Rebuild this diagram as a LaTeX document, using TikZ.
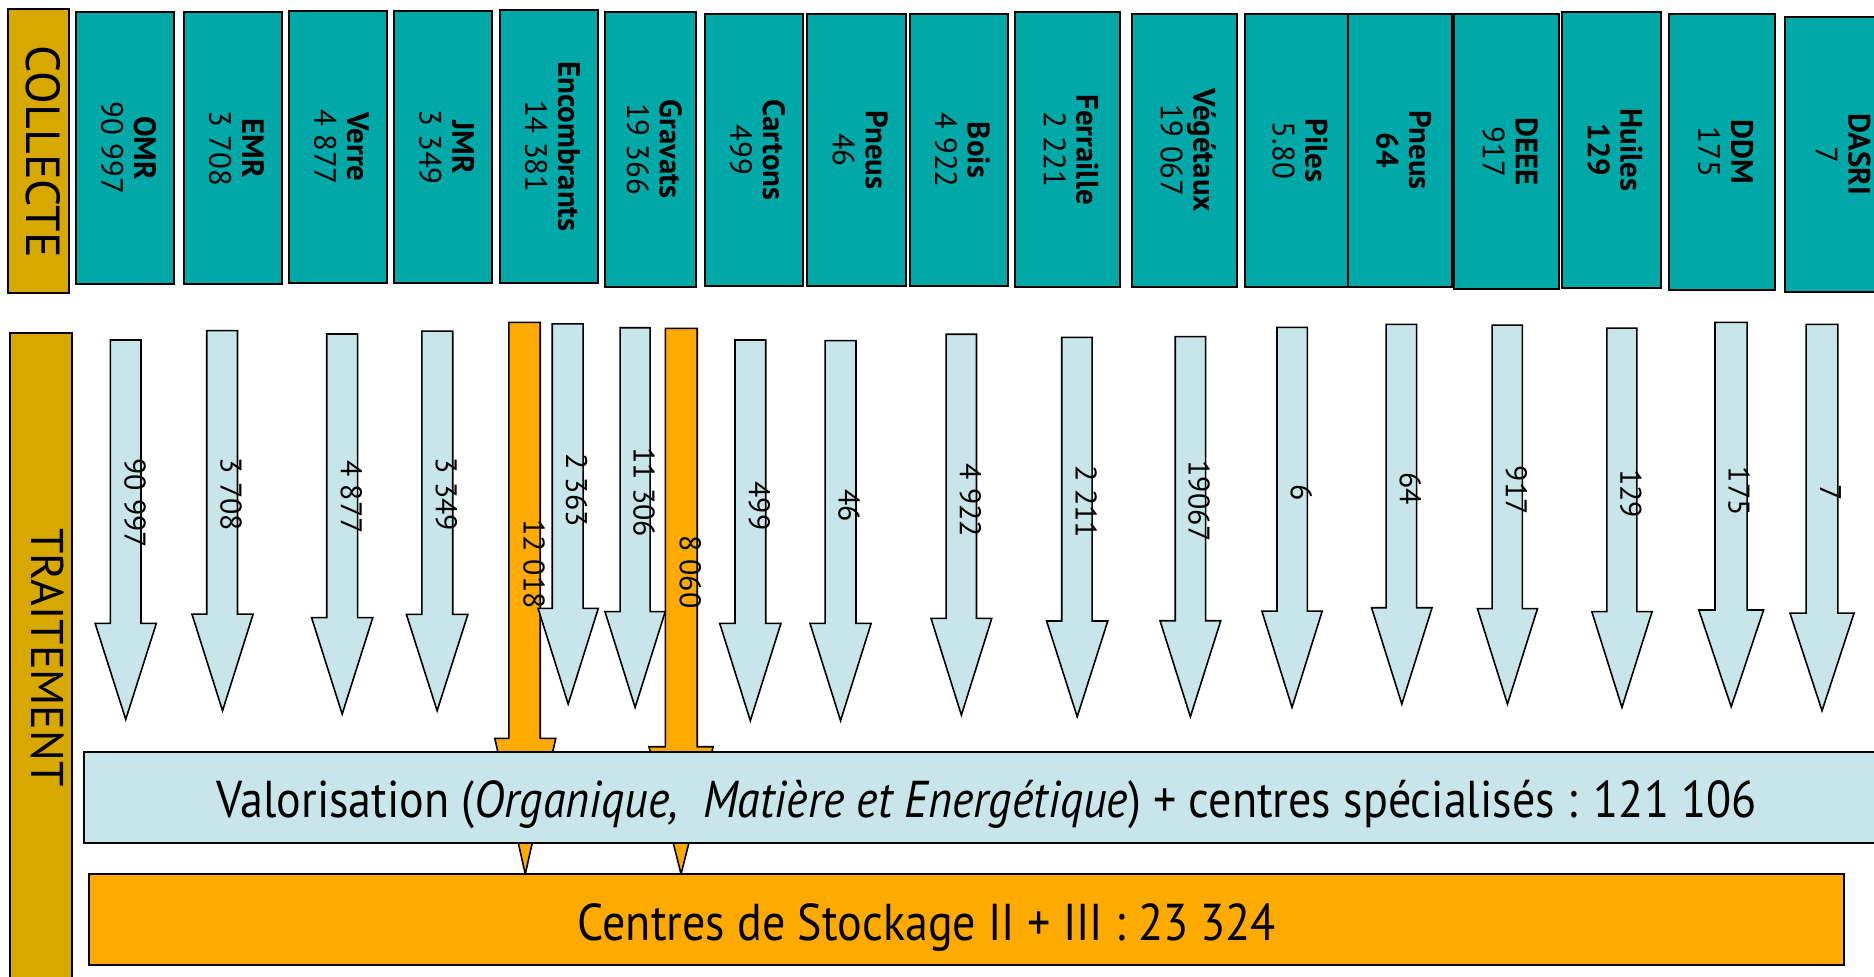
\documentclass[tikz,border=0pt]{standalone}
\usepackage{fontspec}
\setmainfont{PT Sans}
\newfontfamily\condfont[FakeStretch=0.89]{PT Sans}
\definecolor{teal1}{RGB}{0,168,168}
\definecolor{gold1}{RGB}{214,168,0}
\definecolor{lblue}{RGB}{200,230,234}
\definecolor{orng}{RGB}{255,170,0}
\tikzset{
 goldbox/.style={draw=black, line width=1pt, fill=gold1},
 tealbox/.style={draw=black, line width=1pt, fill=teal1},
 blarrow/.style={draw=black, line width=0.8pt, fill=lblue},
 orarrow/.style={draw=black, line width=0.8pt, fill=orng},
 valbox/.style={draw=black, line width=1pt, fill=lblue},
 stobox/.style={draw=black, line width=1pt, fill=orng},
 boxtext/.style={rotate=-90, align=center, font=\fontsize{15.5}{16.5}\selectfont, inner sep=0pt},
 arrlabel/.style={rotate=-90, font=\fontsize{15}{18}\selectfont, inner sep=0pt},
 sidelabel/.style={rotate=-90, font=\fontsize{24}{28}\selectfont, inner sep=0pt},
 bigtext/.style={font=\condfont\fontsize{26}{30}\selectfont, inner sep=0pt}
}
\newcommand{\blockarrow}[9]{%
 \draw[#1] (#2,#4) -- (#3,#4) -- (#3,#5) -- (#7,#5) -- ({(#6+#7)/2},#8) coordinate (#9) -- (#6,#5) -- (#2,#5) -- cycle;}
\newcommand{\collbox}[6]{%
 \draw[tealbox] (#2,#4) rectangle (#3,#5);
 \node[boxtext] (#1) at ({(#2+#3)/2+3},{(#4+#5)/2}) {#6};}
\begin{document}
\begin{tikzpicture}[x=0.6pt,y=-0.6pt]
\useasboundingbox (0,0) rectangle (1568,817);
\clip (0,0) rectangle (1568,817);
\fill[white] (0,0) rectangle (1568,817);
% side labels
\draw[goldbox] (6.7,7.8) rectangle (57.8,245);
\node[sidelabel] (collecte) at (36,127) {COLLECTE};
\draw[goldbox] (8.5,279) rectangle (60,830);
\node[sidelabel, font=\fontsize{23}{28}\selectfont] (traitement) at (40,550) {TRAITEMENT};
% collection boxes
\collbox{omr}{63.5}{145.6}{9.8}{238}{\textbf{OMR}\\90 997}
\collbox{emr}{153.9}{235.9}{9.8}{238}{\textbf{EMR}\\3 708}
\collbox{verre}{241.9}{323.6}{8.9}{237}{\textbf{Verre}\\4 877}
\collbox{jmr}{329.6}{412}{8.9}{237}{\textbf{JMR}\\3 349}
\collbox{encomb}{418.3}{500.3}{8.4}{236.5}{\textbf{Encombrants}\\14 381}
\collbox{gravats}{506.3}{582.6}{9.8}{240}{\textbf{Gravats}\\19 366}
\collbox{cartons}{589.9}{671.7}{11.7}{239.3}{\textbf{Cartons}\\499}
\collbox{pneus}{675.5}{757.8}{11.7}{239.3}{\textbf{Pneus}\\46}
\collbox{bois}{761.2}{843}{11.7}{239.3}{\textbf{Bois}\\4 922}
\collbox{ferraille}{849.4}{937.2}{10.3}{240}{\textbf{Ferraille}\\2 221}
\collbox{vegetaux}{947.5}{1034.9}{11.7}{239.9}{\textbf{Végétaux}\\19 067}
\collbox{piles}{1041.3}{1128.2}{11.7}{240}{\textbf{Piles}\\5.80}
\collbox{pneusb}{1128.2}{1214.8}{11.7}{240}{\textbf{Pneus}\\\textbf{64}}
\collbox{deee}{1216.9}{1304.1}{11.7}{242}{\textbf{DEEE}\\917}
\collbox{huiles}{1306.6}{1390}{10.3}{241}{\textbf{Huiles}\\\textbf{129}}
\collbox{ddm}{1396.3}{1485.4}{11.7}{242.7}{\textbf{DDM}\\175}
\collbox{dasri}{1493.5}{1585}{14}{244.6}{\textbf{DASRI}\\7}
% orange arrows
\blockarrow{orarrow}{425.8}{452}{269.7}{617.8}{414}{465}{731.3}{o1}
\blockarrow{orarrow}{556.7}{583.4}{274.7}{624.8}{543}{596.7}{731.3}{o2}
% blue arrows
\blockarrow{blarrow}{92.3}{118}{284.5}{521.6}{79.6}{130.8}{601.9}{a1}
\blockarrow{blarrow}{173}{198.7}{276.7}{513.8}{160.6}{211.8}{594.7}{a2}
\blockarrow{blarrow}{273.4}{299.2}{279.5}{516.8}{260.7}{311.9}{597.5}{a3}
\blockarrow{blarrow}{353}{378.8}{277}{514}{340}{391.5}{594.7}{a4}
\blockarrow{blarrow}{462.1}{487.9}{271}{509}{450.2}{500.6}{589.1}{a5}
\blockarrow{blarrow}{518.8}{543.9}{274.2}{511.8}{506.2}{556.6}{591.9}{a6}
\blockarrow{blarrow}{615}{640.7}{284.5}{521.6}{602.2}{653.4}{603}{a7}
\blockarrow{blarrow}{690.4}{716.2}{285}{521.6}{677.7}{728.9}{603}{a8}
\blockarrow{blarrow}{791.6}{817}{279.7}{517.4}{779}{829.8}{598.3}{a9}
\blockarrow{blarrow}{888.4}{913.8}{282.3}{519.6}{875.7}{926.9}{599.7}{a10}
\blockarrow{blarrow}{983.3}{1008.7}{281.7}{519.4}{970.6}{1021.4}{599.7}{a11}
\blockarrow{blarrow}{1068.5}{1093.9}{273.9}{511.3}{1055.8}{1106.3}{591.9}{a12}
\blockarrow{blarrow}{1159.8}{1185.3}{271.4}{508.5}{1147.6}{1198.2}{589.1}{a13}
\blockarrow{blarrow}{1248.4}{1273.8}{272}{509.3}{1236.2}{1286.4}{589.1}{a14}
\blockarrow{blarrow}{1344.5}{1369.6}{274.5}{511.8}{1331.9}{1382.3}{591.9}{a15}
\blockarrow{blarrow}{1434.9}{1461.8}{269.7}{510.4}{1421.4}{1475.6}{591.4}{a16}
\blockarrow{blarrow}{1511.2}{1537.8}{271.4}{513}{1497.7}{1551.3}{594.7}{a17}
% arrow labels
\node[arrlabel] (l1) at (113,421) {90 997};
\node[arrlabel] (l2) at (193.3,413.6) {3 708};
\node[arrlabel] (l3) at (294,416) {4 877};
\node[arrlabel] (l4) at (373.5,413.6) {3 349};
\node[arrlabel] (lo1) at (446.8,472) {12 018};
\node[arrlabel] (l5) at (482.5,410) {2 363};
\node[arrlabel] (l6) at (538.9,412) {11 306};
\node[arrlabel] (lo2) at (577.5,478.6) {8 060};
\node[arrlabel] (l7) at (635.3,423.3) {499};
\node[arrlabel] (l8) at (710.4,423) {46};
\node[arrlabel] (l9) at (811.9,418.8) {4 922};
\node[arrlabel] (l10) at (908.8,419.8) {2 211};
\node[arrlabel] (l11) at (1003.3,419.5) {19067};
\node[arrlabel] (l12) at (1088.8,412) {6};
\node[arrlabel] (l13) at (1180,409) {64};
\node[arrlabel] (l14) at (1268.8,410.3) {917};
\node[arrlabel] (l15) at (1364.6,413) {129};
\node[arrlabel] (l16) at (1455,411) {175};
\node[arrlabel] (l17) at (1531.7,412.5) {7};
% treatment boxes
\draw[valbox] (70.6,629) rectangle (1590,705);
\node[bigtext] (valo) at (825.5,673) {Valorisation (\textit{Organique,\ \ Matière et Energétique}) + centres spécialisés : 121 106};
\draw[stobox] (74.5,731.3) rectangle (1543,807.5);
\node[bigtext] (stock) at (775.5,776) {Centres de Stockage II + III : 23 324};
\end{tikzpicture}
\end{document}
